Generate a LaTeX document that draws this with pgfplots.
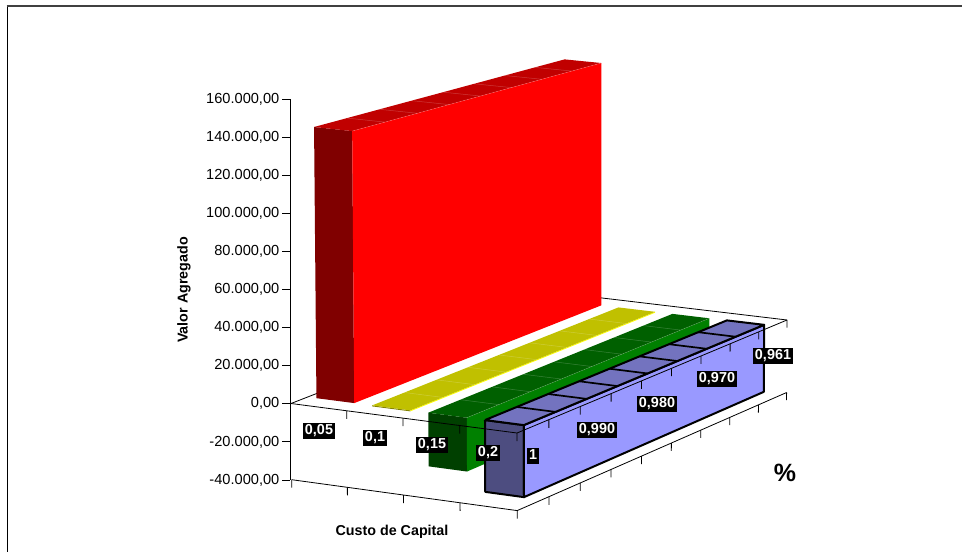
\documentclass[border=0pt]{standalone}
\usepackage{fontspec}
\setmainfont{Liberation Sans}
\usepackage{pgfplots}
\pgfplotsset{compat=1.18}

% Bar colours
\definecolor{redSide}{RGB}{255,0,0}
\definecolor{redEnd}{RGB}{128,0,0}
\definecolor{redTop}{RGB}{192,0,0}
\definecolor{yelSide}{RGB}{255,255,0}
\definecolor{yelEnd}{RGB}{128,128,0}
\definecolor{yelTop}{RGB}{192,192,0}
\definecolor{greSide}{RGB}{0,128,0}
\definecolor{greEnd}{RGB}{0,64,0}
\definecolor{greTop}{RGB}{0,96,0}
\definecolor{bluSide}{RGB}{153,153,255}
\definecolor{bluEnd}{RGB}{77,77,128}
\definecolor{bluTop}{RGB}{115,115,191}

% Perspective projection of the model coordinates:
% u = position along Custo de Capital (0..1), v = position along % (0..1), w = Valor Agregado
\newcommand\Dn{(1-0.018*\thisrow{u}+0.0688*\thisrow{v})}
\newcommand\Xn{((291+216.7*\thisrow{u}+319.3*\thisrow{v})/\Dn)}
\pgfkeys{/pgfplots/table/mdl/.style={
  row sep=\\,
  x expr={\Xn+5.9e-8*(\Xn-600)*\thisrow{w}/\Dn},
  y expr={(403.5+21.7*\thisrow{u}-88.95*\thisrow{v}-0.001905*\thisrow{w})/\Dn}}}
\newcommand\mplot[2]{\addplot[#1] table[mdl] {u v w\\ #2};}
\pgfplotsset{axl/.style={black,line width=0.8pt},
             cellln/.style={white,opacity=0.22,line width=0.5pt},
             bluln/.style={draw=black,line width=2pt,line join=round}}
\newcommand\lblfont{\fontsize{14.4}{16}\selectfont\bfseries}
\tikzset{
  lbl/.style={fill=black,text=white,font=\lblfont,inner xsep=1.6pt,inner ysep=1.5pt,
              text height=10.4pt,text depth=3pt,anchor=center},
  axt/.style={black,font=\fontsize{14.3}{16}\selectfont\bfseries},
}

\begin{document}
\begin{tikzpicture}
\path[use as bounding box] (0,0) rectangle (962pt,552pt);
\begin{axis}[
  scale only axis, width=962pt, height=552pt,
  xmin=0, xmax=962, ymin=0, ymax=552, y dir=reverse,
  hide axis, clip=false,
]
% outer frame
\addplot[black,line width=1.5pt] coordinates {(7.3,552) (7.3,5.7)};
\addplot[black!75,line width=2pt] coordinates {(6.5,5.7) (962,5.7)};

% floor edges behind the bars
\mplot{axl}{0 0 0\\ 0 1 0\\ 1 1 0\\}
% floor at -40.000,00
\mplot{axl}{0 0 -40000\\ 1 0 -40000\\ 1 1 -40000\\}

% ---- 0,05: red bar, positive values
\mplot{fill=redEnd,draw=none}{0.04 0.0556 0\\ 0.21 0.0556 0\\ 0.21 0.0556 142800\\ 0.04 0.0556 142800\\}
\mplot{fill=redTop,draw=none}{0.04 0.0556 142800\\ 0.04 0.1667 141830\\ 0.04 0.2778 140860\\ 0.04 0.3889 139890\\ 0.04 0.5 138900\\ 0.04 0.6111 137930\\ 0.04 0.7222 136960\\ 0.04 0.8333 135990\\ 0.04 0.9444 135000\\
  0.21 0.9444 135000\\ 0.21 0.8333 135990\\ 0.21 0.7222 136960\\ 0.21 0.6111 137930\\ 0.21 0.5 138900\\ 0.21 0.3889 139890\\ 0.21 0.2778 140860\\ 0.21 0.1667 141830\\ 0.21 0.0556 142800\\}
\mplot{fill=redSide,draw=none}{0.21 0.0556 0\\ 0.21 0.9444 0\\ 0.21 0.9444 135000\\ 0.21 0.8333 135990\\ 0.21 0.7222 136960\\ 0.21 0.6111 137930\\ 0.21 0.5 138900\\ 0.21 0.3889 139890\\ 0.21 0.2778 140860\\ 0.21 0.1667 141830\\ 0.21 0.0556 142800\\}
\newcommand\redDiv[2]{\mplot{cellln}{0.04 #1 #2\\ 0.21 #1 #2\\}}
\redDiv{0.1667}{141830}\redDiv{0.2778}{140860}\redDiv{0.3889}{139890}\redDiv{0.5}{138900}
\redDiv{0.6111}{137930}\redDiv{0.7222}{136960}\redDiv{0.8333}{135990}
\mplot{cellln}{0.21 0.0556 142800\\ 0.21 0.9444 135000\\}

% ---- 0,1: yellow bar, values just below zero
\mplot{fill=yelEnd,draw=none}{0.29 0.0556 0\\ 0.46 0.0556 0\\ 0.46 0.0556 -500\\ 0.29 0.0556 -500\\}
\mplot{fill=yelSide,draw=none}{0.46 0.0556 0\\ 0.46 0.9444 0\\ 0.46 0.9444 -500\\ 0.46 0.0556 -500\\}
\mplot{fill=yelTop,draw=none}{0.29 0.0556 0\\ 0.46 0.0556 0\\ 0.46 0.9444 0\\ 0.29 0.9444 0\\}
\pgfplotsinvokeforeach{0.1667,0.2778,0.3889,0.5,0.6111,0.7222,0.8333}{
  \mplot{cellln}{0.29 #1 0\\ 0.46 #1 0\\}}

% ---- 0,15: green bar
\mplot{fill=greEnd,draw=none}{0.54 0.0556 0\\ 0.71 0.0556 0\\ 0.71 0.0556 -28000\\ 0.54 0.0556 -28000\\}
\mplot{fill=greSide,draw=none}{0.71 0.0556 0\\ 0.71 0.9444 0\\ 0.71 0.9444 -26800\\ 0.71 0.8333 -26950\\ 0.71 0.7222 -27100\\ 0.71 0.6111 -27250\\ 0.71 0.5 -27400\\ 0.71 0.3889 -27550\\ 0.71 0.2778 -27700\\ 0.71 0.1667 -27850\\ 0.71 0.0556 -28000\\}
\mplot{fill=greTop,draw=none}{0.54 0.0556 0\\ 0.71 0.0556 0\\ 0.71 0.9444 0\\ 0.54 0.9444 0\\}
\pgfplotsinvokeforeach{0.1667,0.2778,0.3889,0.5,0.6111,0.7222,0.8333}{
  \mplot{cellln}{0.54 #1 0\\ 0.71 #1 0\\}}
\mplot{cellln}{0.71 0.0556 0\\ 0.71 0.9444 0\\}

% ---- 0,2: blue bar with black outline
\mplot{fill=bluEnd,bluln}{0.79 0.0556 0\\ 0.96 0.0556 0\\ 0.96 0.0556 -37300\\ 0.79 0.0556 -37300\\ 0.79 0.0556 0\\}
\mplot{fill=bluSide,bluln}{0.96 0.0556 0\\ 0.96 0.9444 0\\ 0.96 0.9444 -36850\\ 0.96 0.8333 -36910\\ 0.96 0.7222 -36960\\ 0.96 0.6111 -37020\\ 0.96 0.5 -37080\\ 0.96 0.3889 -37130\\ 0.96 0.2778 -37190\\ 0.96 0.1667 -37240\\ 0.96 0.0556 -37300\\ 0.96 0.0556 0\\}
\mplot{fill=bluTop,bluln}{0.79 0.0556 0\\ 0.96 0.0556 0\\ 0.96 0.9444 0\\ 0.79 0.9444 0\\ 0.79 0.0556 0\\}
\pgfplotsinvokeforeach{0.1667,0.2778,0.3889,0.5,0.6111,0.7222,0.8333}{
  \mplot{black,line width=1.7pt}{0.79 #1 0\\ 0.96 #1 0\\}}

% floor edges in front of the bars, with their ticks
\mplot{axl}{0 0 0\\ 1 0 0\\ 1 1 0\\}
\pgfplotsinvokeforeach{0.25,0.5,0.75,1}{
  \mplot{axl}{#1 0 0\\ #1 0 -4200\\}}
\pgfplotsinvokeforeach{0,0.25,0.5,0.75,1}{
  \mplot{axl}{#1 0 -40000\\ #1 0 -44200\\}}
\pgfplotsinvokeforeach{0.1111,0.2222,0.3333,0.4444,0.5556,0.6667,0.7778,0.8889,1}{
  \mplot{axl}{1 #1 0\\ 1 #1 -4200\\}
  \mplot{axl}{1 #1 -40000\\ 1 #1 -44200\\}}

% category labels on black plates
\node[lbl] at (axis cs:319,431) {0,05};
\node[lbl] at (axis cs:375,438) {0,1};
\node[lbl] at (axis cs:432,445) {0,15};
\node[lbl] at (axis cs:488,453) {0,2};
\node[lbl] at (axis cs:533,456) {1};
\node[lbl] at (axis cs:597,430) {0,990};
\node[lbl] at (axis cs:657,404) {0,980};
\node[lbl] at (axis cs:717,379) {0,970};
\node[lbl] at (axis cs:773,356) {0,961};

% axis titles
\node[axt,rotate=90] at (axis cs:184,290) {Valor Agregado};
\node[axt] at (axis cs:392,532) {Custo de Capital};
\node[black,font=\fontsize{25}{28}\selectfont\bfseries] at (axis cs:785,473) {\%};
\end{axis}

% value axis
\begin{axis}[
  at={(290pt,72pt)}, anchor=south west,
  scale only axis, width=1pt, height=381pt,
  xmin=0, xmax=1, ymin=-40000, ymax=160000,
  axis x line=none, axis y line=left,
  axis line style={-,line width=0.8pt,black},
  ytick={-40000,-20000,0,20000,40000,60000,80000,100000,120000,140000,160000},
  yticklabels={{-40.000,00},{-20.000,00},{0,00},{20.000,00},{40.000,00},{60.000,00},{80.000,00},{100.000,00},{120.000,00},{140.000,00},{160.000,00}},
  tick align=outside, major tick length=8pt,
  tick style={black,line width=0.8pt},
  yticklabel style={font=\fontsize{14.6}{16}\selectfont,black,inner sep=1pt,xshift=-1.5pt},
  scaled y ticks=false,
]
\addplot[draw=none,forget plot] coordinates {(0,0)};
\end{axis}
\end{tikzpicture}
\end{document}
